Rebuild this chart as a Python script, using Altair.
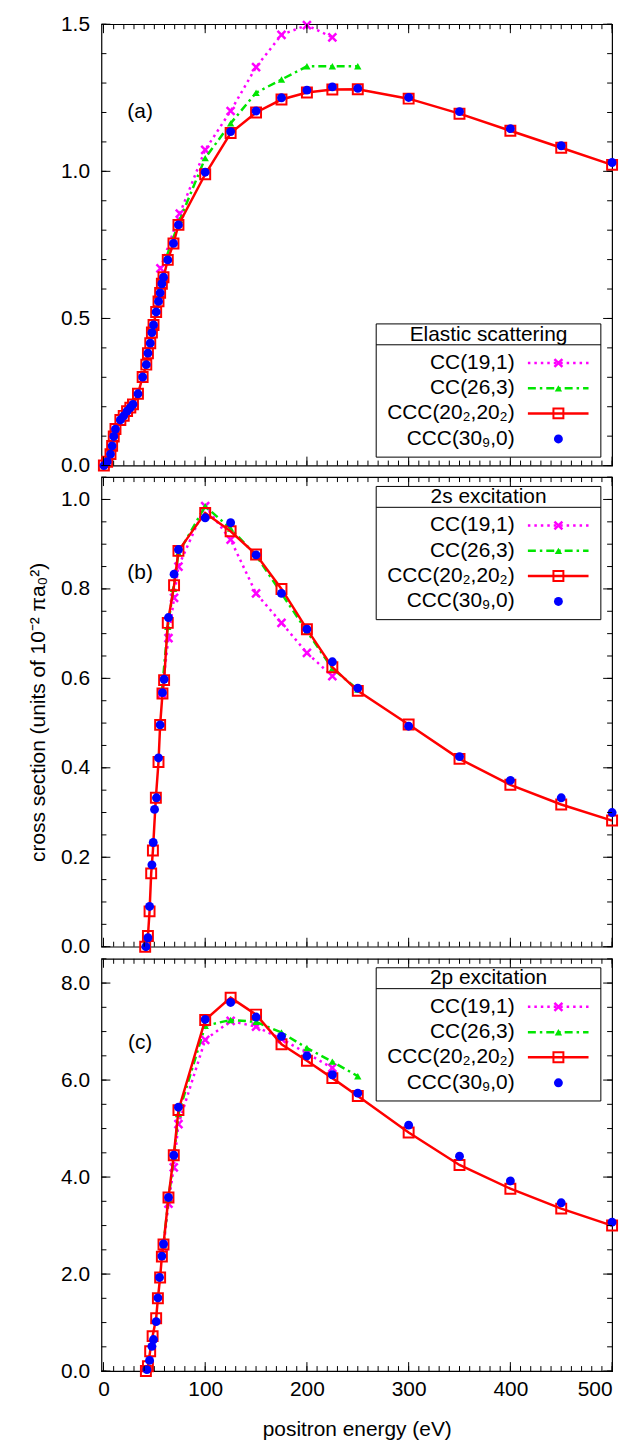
import altair as alt
import pandas as pd

# ---------------- data ----------------
SERIES = ["CC(19,1)", "CC(26,3)", "CCC(20₂,20₂)", "CCC(30₉,0)"]

# (a) elastic scattering
a_cc19_e = [56, 75, 100, 125, 150, 175, 200, 225]
a_cc19_v = [0.67, 0.856, 1.073, 1.205, 1.354, 1.464, 1.497, 1.455]
a_cc26_e = [62, 75, 100, 125, 150, 175, 200, 225, 250]
a_cc26_v = [0.71, 0.835, 1.045, 1.163, 1.267, 1.312, 1.357, 1.357, 1.357]
a_low_e = [0.4, 3.6, 6.9, 8.5, 10.1, 11.8, 16.6, 19.9, 23.2, 26.4, 29.0, 33.9, 38.5,
           42.1, 43.7, 46.0, 47.6, 49.2, 51.8, 54.1, 55.7, 57.4, 59.0, 63.2, 68.8, 73.7]
a_low_v = [0.0, 0.013, 0.039, 0.067, 0.099, 0.124, 0.155, 0.169, 0.185, 0.197, 0.208, 0.244, 0.301,
           0.343, 0.382, 0.416, 0.452, 0.478, 0.522, 0.558, 0.587, 0.618, 0.640, 0.699, 0.755, 0.818]
a_high_e = [100, 125, 150, 175, 200, 225, 250, 300, 350, 400, 450, 500]
a_ccc20_high_v = [0.99, 1.13, 1.20, 1.244, 1.268, 1.278, 1.279, 1.247, 1.196, 1.138, 1.08, 1.022]
a_ccc30_high_v = [0.997, 1.135, 1.205, 1.25, 1.276, 1.287, 1.282, 1.251, 1.203, 1.145, 1.087, 1.03]

# (b) 2s excitation
b_cc19_e = [57.4, 63.9, 69.4, 73.7, 100, 125, 150, 175, 200, 225]
b_cc19_v = [0.566, 0.69, 0.78, 0.85, 0.985, 0.91, 0.79, 0.724, 0.657, 0.605]
b_cc26_e = [57.4, 63.2, 68.8, 73.7, 100, 125, 150, 175, 200, 225, 250]
b_cc26_v = [0.57, 0.715, 0.80, 0.88, 0.985, 0.935, 0.875, 0.79, 0.705, 0.622, 0.575]
b_ccc20_e = [41.0, 43.7, 45.3, 46.9, 48.6, 51.5, 54.1, 55.7, 58.0, 59.6, 63.2, 69.4, 73.7,
             100, 125, 150, 175, 200, 225, 250, 300, 350, 400, 450, 500]
b_ccc20_v = [0.0, 0.024, 0.079, 0.164, 0.215, 0.333, 0.413, 0.496, 0.566, 0.596, 0.724, 0.808, 0.885,
             0.970, 0.929, 0.877, 0.80, 0.71, 0.625, 0.572, 0.497, 0.42, 0.362, 0.318, 0.282]
b_ccc30_e = [41.7, 43.7, 45.3, 47.6, 48.9, 50.2, 52.1, 54.1, 55.7, 58.0, 59.6, 63.9, 69.4, 73.7,
             100, 125, 150, 175, 200, 225, 250, 300, 350, 400, 450, 500]
b_ccc30_v = [0.0, 0.02, 0.09, 0.183, 0.233, 0.307, 0.333, 0.422, 0.496, 0.568, 0.598, 0.736, 0.833, 0.888,
             0.959, 0.948, 0.876, 0.79, 0.71, 0.637, 0.578, 0.493, 0.425, 0.372, 0.333, 0.30]

# (c) 2p excitation
c_cc19_e = [59, 63.9, 69.1, 73.7, 100, 125, 150, 175, 200, 225]
c_cc19_v = [2.55, 3.45, 4.2, 5.09, 6.83, 7.22, 7.10, 6.85, 6.55, 6.25]
c_cc26_e = [59, 63.9, 69.1, 73.7, 100, 125, 150, 175, 200, 225, 250]
c_cc26_v = [2.6, 3.55, 4.4, 5.3, 7.12, 7.24, 7.20, 6.98, 6.66, 6.38, 6.08]
c_ccc20_e = [41.7, 43.7, 45.9, 48.3, 51.8, 53.5, 55.7, 57.4, 59.0, 63.9, 69.1, 73.7,
             100, 125, 150, 175, 200, 225, 250, 300, 350, 400, 450, 500]
c_ccc20_v = [0.0, 0.1, 0.41, 0.72, 1.09, 1.50, 1.93, 2.36, 2.61, 3.58, 4.45, 5.38,
             7.24, 7.70, 7.35, 6.74, 6.40, 6.04, 5.67, 4.92, 4.25, 3.76, 3.35, 3.0]
c_ccc30_e = [42.7, 45.3, 47.6, 49.2, 51.8, 53.5, 55.1, 57.4, 59.0, 63.9, 69.1, 73.7,
             100, 125, 150, 175, 200, 225, 250, 300, 350, 400, 450, 500]
c_ccc30_v = [0.03, 0.22, 0.51, 0.65, 1.02, 1.51, 1.93, 2.37, 2.62, 3.58, 4.45, 5.44,
             7.25, 7.60, 7.30, 6.90, 6.50, 6.11, 5.73, 5.07, 4.43, 3.92, 3.47, 3.07]

X_MAJOR = [0, 100, 200, 300, 400, 500]

# ---------------- styling ----------------
FONT = "Liberation Sans"
FS = 21
W = 513.7
XDOM = [-2, 500]
MAG, GRN, RED, BLU = "#ff00ff", "#00e600", "#ff0000", "#0000ff"
XSHAPE = "M-1,-1L1,1M-1,1L1,-1"
DOT = [2.5, 4]
DASHDOT = [8, 4, 2.5, 4]
LW = 2.5

one = pd.DataFrame({"k": [0]})


def df(e, v):
    return pd.DataFrame({"E": e, "V": v})


def panel(series, ydom, yvals, yminor, H, tag, tag_xy, leg_title, leg_top, show_x, ytitle=None):
    xscale = alt.Scale(domain=XDOM, nice=False, zero=False)
    yscale = alt.Scale(domain=ydom, nice=False, zero=False)
    if show_x:
        xax = alt.Axis(values=X_MAJOR, format="d", ticks=False, tickSize=0, domain=False, grid=False,
                       labelFontSize=FS, labelPadding=8, title="positron energy (eV)",
                       titleFontSize=FS, titleFontWeight="normal", titlePadding=19)
    else:
        xax = alt.Axis(values=X_MAJOR, ticks=False, tickSize=0, domain=False, grid=False,
                       labels=False, title=None)
    yax_kw = dict(values=yvals, format=".1f", ticks=False, tickSize=0, domain=False, grid=False,
                  labelFontSize=FS, labelPadding=12)
    if ytitle:
        yax = alt.Axis(title=ytitle, titleFontSize=FS, titleFontWeight="normal", titlePadding=12, **yax_kw)
    else:
        yax = alt.Axis(title=None, **yax_kw)

    X = alt.X("E:Q", scale=xscale, axis=xax)
    Y = alt.Y("V:Q", scale=yscale, axis=yax)

    layers = []
    (e19, v19), (e26, v26), (e20, v20), (e30, v30) = series
    d19, d26, d20, d30 = df(e19, v19), df(e26, v26), df(e20, v20), df(e30, v30)
    layers.append(alt.Chart(d19).mark_line(color=MAG, strokeWidth=LW, strokeDash=DOT).encode(x=X, y=Y))
    layers.append(alt.Chart(d19).mark_point(shape=XSHAPE, filled=False, color=MAG, size=64,
                                            strokeWidth=2.5, opacity=1).encode(x=X, y=Y))
    layers.append(alt.Chart(d26).mark_line(color=GRN, strokeWidth=LW, strokeDash=DASHDOT).encode(x=X, y=Y))
    layers.append(alt.Chart(d26).mark_point(shape="triangle-up", filled=True, color=GRN, size=55,
                                            opacity=1).encode(x=X, y=Y))
    layers.append(alt.Chart(d20).mark_line(color=RED, strokeWidth=LW).encode(x=X, y=Y))
    layers.append(alt.Chart(d20).mark_point(shape="square", filled=False, color=RED, size=100,
                                            strokeWidth=2, opacity=1).encode(x=X, y=Y))
    layers.append(alt.Chart(d30).mark_point(shape="circle", filled=True, color=BLU, size=80,
                                            opacity=1).encode(x=X, y=Y))

    # inward ticks on all four sides
    xmin = pd.DataFrame({"E": list(range(0, 501, 10))})
    xmaj = pd.DataFrame({"E": X_MAJOR})
    for d, ln in ((xmin, 5), (xmaj, 9)):
        layers.append(alt.Chart(d).mark_rule(color="black", strokeWidth=1).encode(
            x=X, y=alt.value(H), y2=alt.value(H - ln)))
        layers.append(alt.Chart(d).mark_rule(color="black", strokeWidth=1).encode(
            x=X, y=alt.value(0), y2=alt.value(ln)))
    ymin_df = pd.DataFrame({"V": yminor})
    ymaj_df = pd.DataFrame({"V": yvals})
    for d, ln in ((ymin_df, 5), (ymaj_df, 9)):
        layers.append(alt.Chart(d).mark_rule(color="black", strokeWidth=1).encode(
            y=Y, x=alt.value(0), x2=alt.value(ln)))
        layers.append(alt.Chart(d).mark_rule(color="black", strokeWidth=1).encode(
            y=Y, x=alt.value(W), x2=alt.value(W - ln)))

    # panel tag
    tagdf = pd.DataFrame({"E": [tag_xy[0]], "V": [tag_xy[1]]})
    layers.append(alt.Chart(tagdf).mark_text(fontSize=FS, font=FONT, color="black").encode(
        x=X, y=Y, text=alt.value(tag)))

    # legend box
    bx0, bx1 = 276.4, 502.4
    t = leg_top
    layers.append(alt.Chart(one).mark_rect(fill="white", stroke="black", strokeWidth=1).encode(
        x=alt.value(bx0), x2=alt.value(bx1), y=alt.value(t), y2=alt.value(t + 134)))
    layers.append(alt.Chart(one).mark_rule(color="black", strokeWidth=1).encode(
        x=alt.value(bx0), x2=alt.value(bx1), y=alt.value(t + 21)))
    layers.append(alt.Chart(one).mark_text(fontSize=FS, font=FONT, color="black", baseline="middle").encode(
        x=alt.value((bx0 + bx1) / 2), y=alt.value(t + 10.8), text=alt.value(leg_title)))
    rows = [t + 39.3, t + 64.8, t + 90.0, t + 115.7]
    tx, l0, l1, mx = 415.7, 429, 490, 459.7
    for name, ry in zip(SERIES, rows):
        layers.append(alt.Chart(one).mark_text(fontSize=FS, font=FONT, color="black", align="right",
                                               baseline="middle").encode(
            x=alt.value(tx), y=alt.value(ry), text=alt.value(name)))
    layers.append(alt.Chart(one).mark_rule(color=MAG, strokeWidth=LW, strokeDash=DOT).encode(
        x=alt.value(l0), x2=alt.value(l1), y=alt.value(rows[0])))
    layers.append(alt.Chart(one).mark_point(shape=XSHAPE, filled=False, color=MAG, size=64,
                                            strokeWidth=2.5, opacity=1).encode(
        x=alt.value(mx), y=alt.value(rows[0])))
    layers.append(alt.Chart(one).mark_rule(color=GRN, strokeWidth=LW, strokeDash=DASHDOT).encode(
        x=alt.value(l0), x2=alt.value(l1), y=alt.value(rows[1])))
    layers.append(alt.Chart(one).mark_point(shape="triangle-up", filled=True, color=GRN, size=55,
                                            opacity=1).encode(x=alt.value(mx), y=alt.value(rows[1])))
    layers.append(alt.Chart(one).mark_rule(color=RED, strokeWidth=LW).encode(
        x=alt.value(l0), x2=alt.value(l1), y=alt.value(rows[2])))
    layers.append(alt.Chart(one).mark_point(shape="square", filled=False, color=RED, size=100,
                                            strokeWidth=2, opacity=1).encode(
        x=alt.value(mx), y=alt.value(rows[2])))
    layers.append(alt.Chart(one).mark_point(shape="circle", filled=True, color=BLU, size=80,
                                            opacity=1).encode(x=alt.value(mx), y=alt.value(rows[3])))

    return alt.layer(*layers).properties(width=W, height=H)


def frange(n, step):
    return [round(i * step, 3) for i in range(n)]


pa = panel([(a_cc19_e, a_cc19_v), (a_cc26_e, a_cc26_v),
            (a_low_e + a_high_e, a_low_v + a_ccc20_high_v),
            (a_low_e + a_high_e, a_low_v + a_ccc30_high_v)],
           [0, 1.5], [0.0, 0.5, 1.0, 1.5], frange(16, 0.1), 444, "(a)", (36, 1.2),
           "Elastic scattering", 301.5, False)
pb = panel([(b_cc19_e, b_cc19_v), (b_cc26_e, b_cc26_v), (b_ccc20_e, b_ccc20_v), (b_ccc30_e, b_ccc30_v)],
           [0, 1.05], [0.0, 0.2, 0.4, 0.6, 0.8, 1.0], frange(22, 0.05), 472.4, "(b)", (36, 0.836),
           "2s excitation", 9.4, False, ytitle="cross section (units of 10⁻² πa₀²)")
pc = panel([(c_cc19_e, c_cc19_v), (c_cc26_e, c_cc26_v), (c_ccc20_e, c_ccc20_v), (c_ccc30_e, c_ccc30_v)],
           [0, 8.5], [0.0, 2.0, 4.0, 6.0, 8.0], frange(18, 0.5), 414.7, "(c)", (36, 6.76),
           "2p excitation", 9.0, True)

chart = alt.vconcat(pa, pb, pc, spacing=11.6, bounds="flush").properties(
    padding={"left": 19, "top": 0, "right": 5, "bottom": 5}
).configure_view(stroke="black", strokeWidth=1.2).configure_axis(
    labelFont=FONT, titleFont=FONT, labelColor="black", titleColor="black"
).configure_text(font=FONT)

chart.save("out.html", embed_options={"renderer": "svg", "actions": False})
